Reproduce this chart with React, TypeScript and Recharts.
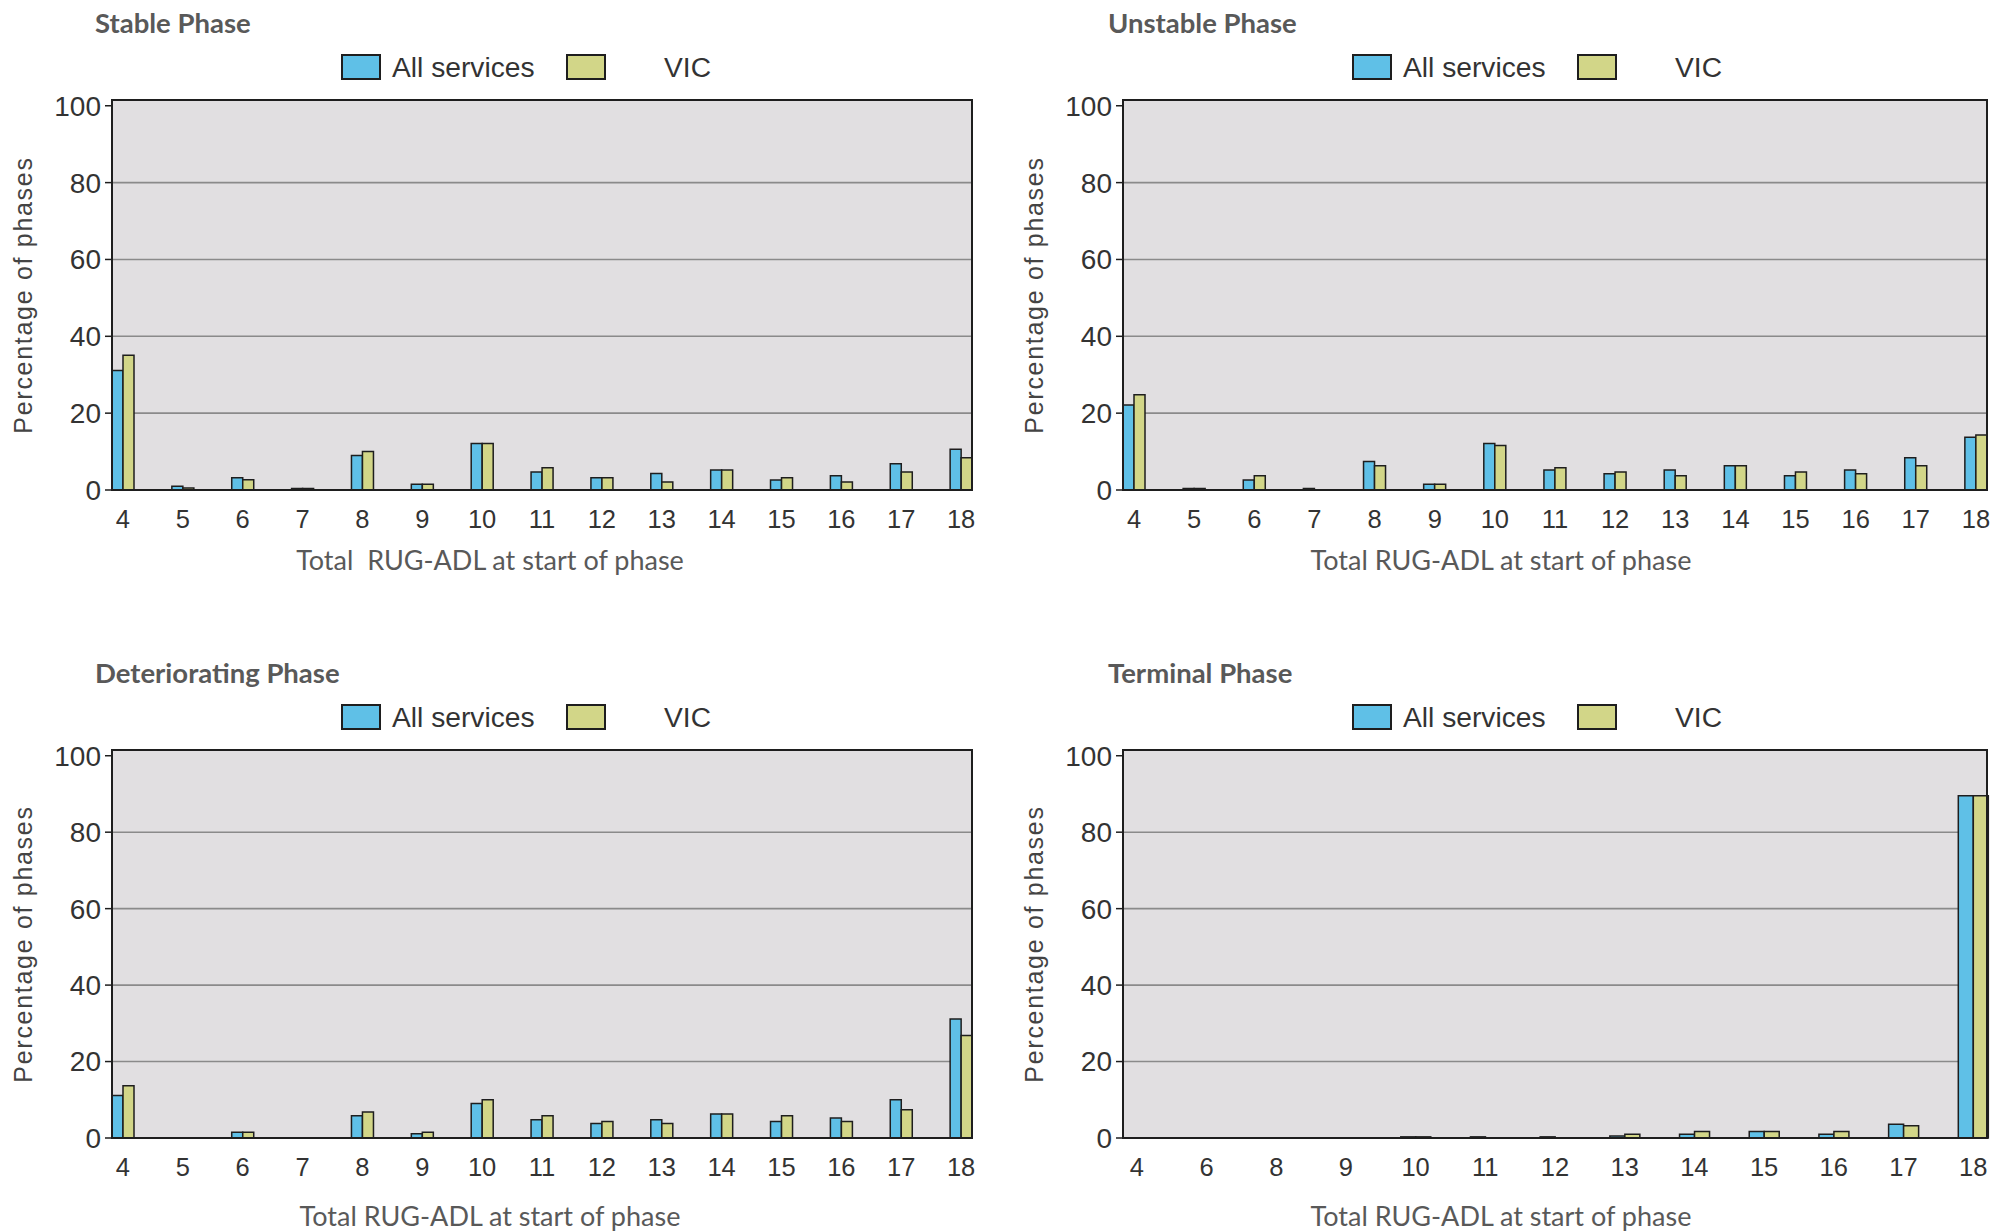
import { BarChart, Bar, XAxis, YAxis, CartesianGrid } from "recharts";

// Total RUG-ADL score categories
const rugAdl = ["4", "5", "6", "7", "8", "9", "10", "11", "12", "13", "14", "15", "16", "17", "18"];
const rugAdlTerminal = ["4", "6", "8", "9", "10", "11", "12", "13", "14", "15", "16", "17", "18"];

const yTicks = [0, 20, 40, 60, 80, 100];
const gridValues = [20, 40, 60, 80];

// Percentage of phases
const stableAll = [31.1, 1.0, 3.2, 0.4, 9.0, 1.5, 12.1, 4.7, 3.2, 4.3, 5.2, 2.6, 3.7, 6.8, 10.6];
const stableVic = [35.1, 0.5, 2.7, 0.4, 10.0, 1.5, 12.1, 5.8, 3.2, 2.1, 5.2, 3.2, 2.1, 4.7, 8.4];

const unstableAll = [22.1, 0.4, 2.6, 0.4, 7.4, 1.5, 12.1, 5.2, 4.2, 5.2, 6.3, 3.7, 5.2, 8.4, 13.7];
const unstableVic = [24.8, 0.4, 3.7, 0, 6.3, 1.5, 11.6, 5.8, 4.7, 3.7, 6.3, 4.7, 4.2, 6.3, 14.3];

const deterioratingAll = [11.1, 0, 1.5, 0, 5.8, 1.1, 9.0, 4.8, 3.8, 4.8, 6.3, 4.3, 5.2, 10.0, 31.1];
const deterioratingVic = [13.7, 0, 1.5, 0, 6.8, 1.5, 10.0, 5.8, 4.3, 3.8, 6.3, 5.8, 4.3, 7.4, 26.8];

const terminalAll = [0, 0, 0, 0, 0.3, 0.3, 0.3, 0.5, 1.0, 1.7, 1.0, 3.6, 89.5];
const terminalVic = [0, 0, 0, 0, 0.3, 0, 0, 1.0, 1.7, 1.7, 1.7, 3.2, 89.5];

const BLUE = "#5fc0e7";
const YELLOW = "#d2d688";
const EDGE = "#1e1e1e";
const PLOT_BG = "#e1dfe1";

const ARIAL = "'Liberation Sans', Arial, sans-serif";
const CALIBRI = "Lato, 'Open Sans', sans-serif";

type PanelProps = {
  title: string;
  xLabel: string;
  cats: string[];
  all: number[];
  vic: number[];
  x: number;
  y: number;
  w: number;
  titleX: number;
  xLabelDy: number;
  margin: { top: number; right: number; bottom: number; left: number };
  pad: number;
  barSize: number;
};

const Panel = ({ title, xLabel, cats, all, vic, x, y, w, titleX, xLabelDy, margin, pad, barSize }: PanelProps) => {
  const data = cats.map((c, i) => ({ score: c, all: all[i], vic: vic[i] }));
  const plotLeft = x + margin.left + 60;
  const plotRight = x + w - margin.right;
  const plotTop = y + margin.top;
  const plotBottom = y + 600 - margin.bottom - 40;

  return (
    <>
      <div
        style={{
          position: "absolute",
          left: x + titleX,
          top: y + 8,
          fontFamily: CALIBRI,
          fontWeight: 700,
          fontSize: 27.5,
          lineHeight: "30px",
          color: "#595959",
          whiteSpace: "nowrap",
        }}
      >
        {title}
      </div>

      {/* legend */}
      <div style={{ position: "absolute", left: plotLeft + 229, top: y + 54, width: 40, height: 26, background: BLUE, border: `2px solid ${EDGE}`, boxSizing: "border-box" }} />
      <div style={{ position: "absolute", left: plotLeft + 280, top: y + 51, fontFamily: ARIAL, fontSize: 28.2, lineHeight: "32px", color: "#333", whiteSpace: "nowrap" }}>
        All services
      </div>
      <div style={{ position: "absolute", left: plotLeft + 454, top: y + 54, width: 40, height: 26, background: YELLOW, border: `2px solid ${EDGE}`, boxSizing: "border-box" }} />
      <div style={{ position: "absolute", left: plotLeft + 552, top: y + 51, fontFamily: ARIAL, fontSize: 28.2, lineHeight: "32px", color: "#333", whiteSpace: "nowrap" }}>
        VIC
      </div>

      {/* y axis title */}
      <div
        style={{
          position: "absolute",
          left: plotLeft - 89 - 200,
          top: (plotTop + plotBottom) / 2 - 18,
          width: 400,
          height: 36,
          lineHeight: "36px",
          textAlign: "center",
          transform: "rotate(-90deg)",
          fontFamily: ARIAL,
          fontSize: 25,
          letterSpacing: 1.7,
          color: "#444",
          whiteSpace: "nowrap",
        }}
      >
        Percentage of phases
      </div>

      {/* x axis title */}
      <div
        style={{
          position: "absolute",
          left: plotLeft + 378 - 300,
          top: plotBottom + xLabelDy,
          width: 600,
          textAlign: "center",
          fontFamily: CALIBRI,
          fontSize: 27,
          lineHeight: "34px",
          color: "#595959",
          whiteSpace: "pre",
        }}
      >
        {xLabel}
      </div>

      <div style={{ position: "absolute", left: x, top: y }}>
        <BarChart width={w} height={600} data={data} margin={margin} barGap={0}>
          <CartesianGrid
            vertical={false}
            fill={PLOT_BG}
            fillOpacity={1}
            stroke="#8a8a8a"
            strokeWidth={1.6}
            horizontalValues={gridValues}
          />
          <Bar dataKey="all" fill={BLUE} stroke={EDGE} strokeWidth={1.5} barSize={barSize} isAnimationActive={false} />
          <Bar dataKey="vic" fill={YELLOW} stroke={EDGE} strokeWidth={1.5} barSize={barSize} isAnimationActive={false} />
          <XAxis
            dataKey="score"
            height={40}
            interval={0}
            padding={{ left: pad, right: pad }}
            tickLine={false}
            tickSize={0}
            tickMargin={20}
            axisLine={{ stroke: "#333", strokeWidth: 2 }}
            tick={{ fill: "#333", fontSize: 25.5, fontFamily: ARIAL }}
          />
          <YAxis
            domain={[0, 101.5]}
            ticks={yTicks}
            width={60}
            tickSize={7}
            tickMargin={4}
            axisLine={{ stroke: EDGE, strokeWidth: 2 }}
            tickLine={{ stroke: EDGE, strokeWidth: 1.5 }}
            tick={{ fill: "#333", fontSize: 28, fontFamily: ARIAL }}
          />
        </BarChart>
      </div>

      {/* plot frame */}
      <div
        style={{
          position: "absolute",
          left: plotLeft - 1,
          top: plotTop - 1,
          width: plotRight - plotLeft + 2,
          height: plotBottom - plotTop + 2,
          border: `2px solid ${EDGE}`,
          boxSizing: "border-box",
          pointerEvents: "none",
        }}
      />
    </>
  );
};

export default function App() {
  return (
    <div style={{ position: "absolute", left: 0, top: 0, width: 1993, height: 1232, background: "#fff", overflow: "hidden" }}>
      <Panel
        title="Stable Phase"
        xLabel="Total  RUG-ADL at start of phase"
        cats={rugAdl}
        all={stableAll}
        vic={stableVic}
        x={0}
        y={0}
        w={1000}
        titleX={95}
        xLabelDy={53}
        margin={{ top: 100, right: 28, bottom: 70, left: 52 }}
        pad={-19}
        barSize={11}
      />
      <Panel
        title="Unstable Phase"
        xLabel="Total RUG-ADL at start of phase"
        cats={rugAdl}
        all={unstableAll}
        vic={unstableVic}
        x={1000}
        y={0}
        w={993}
        titleX={108}
        xLabelDy={53}
        margin={{ top: 100, right: 6, bottom: 70, left: 63 }}
        pad={-19}
        barSize={11}
      />
      <Panel
        title="Deteriorating Phase"
        xLabel="Total RUG-ADL at start of phase"
        cats={rugAdl}
        all={deterioratingAll}
        vic={deterioratingVic}
        x={0}
        y={650}
        w={1000}
        titleX={95}
        xLabelDy={61}
        margin={{ top: 100, right: 28, bottom: 72, left: 52 }}
        pad={-19}
        barSize={11}
      />
      <Panel
        title="Terminal Phase"
        xLabel="Total RUG-ADL at start of phase"
        cats={rugAdlTerminal}
        all={terminalAll}
        vic={terminalVic}
        x={1000}
        y={650}
        w={993}
        titleX={108}
        xLabelDy={61}
        margin={{ top: 100, right: 6, bottom: 72, left: 63 }}
        pad={-21}
        barSize={15}
      />
    </div>
  );
}
